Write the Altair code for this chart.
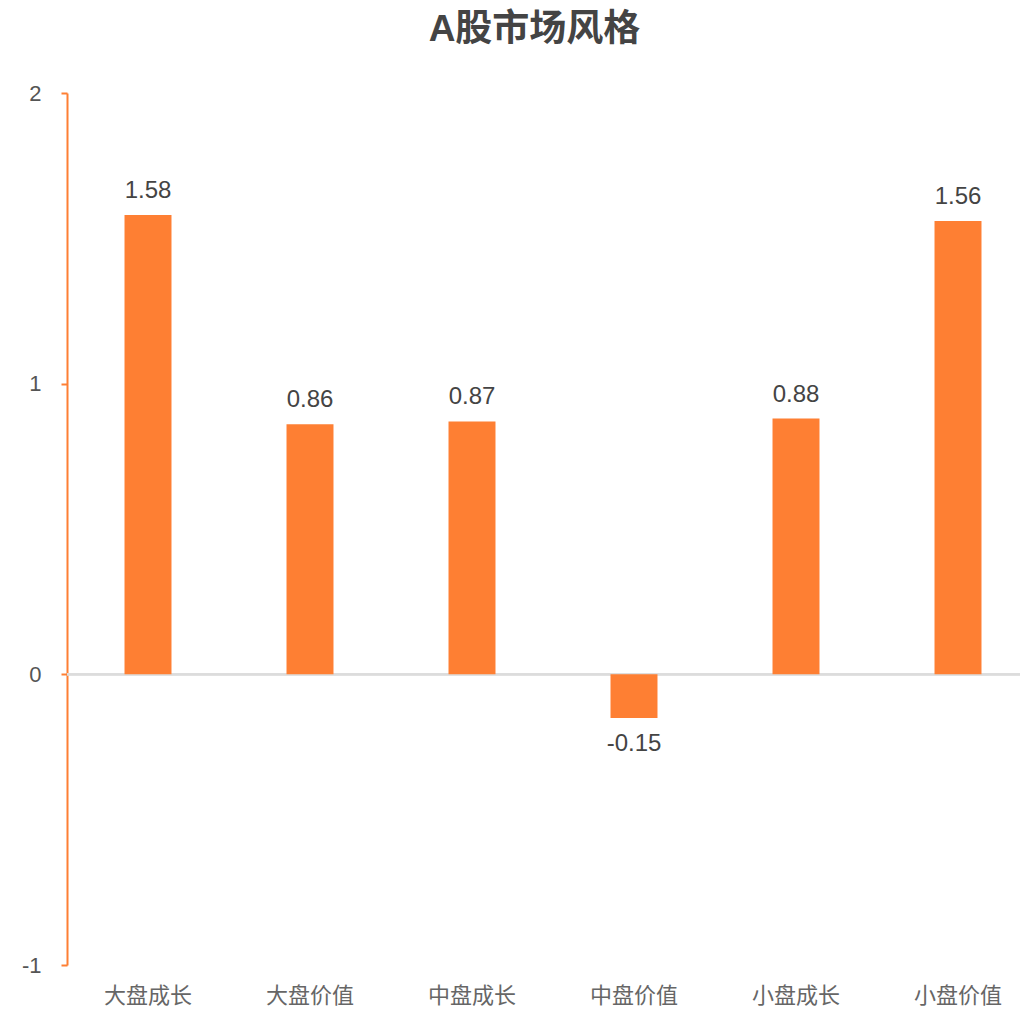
import altair as alt
import pandas as pd

categories = ["大盘成长", "大盘价值", "中盘成长", "中盘价值", "小盘成长", "小盘价值"]
values = [1.58, 0.86, 0.87, -0.15, 0.88, 1.56]

df = pd.DataFrame({"cat": categories, "val": values})

ORANGE = "#FE7F33"
FONT = "Liberation Sans, Noto Sans CJK SC, sans-serif"

x_enc = alt.X(
    "cat:N",
    sort=None,
    scale=alt.Scale(range=[0, 972], paddingInner=0.71, paddingOuter=0.355),
    axis=alt.Axis(
        title=None, domain=False, ticks=False, labelAngle=0,
        labelFontSize=22, labelColor="#666", labelFont=FONT, labelPadding=20,
    ),
)
y_enc = alt.Y(
    "val:Q",
    scale=alt.Scale(domain=[-1, 2], nice=False),
    axis=alt.Axis(
        title=None, values=[-1, 0, 1, 2], grid=False,
        labelExpr="replace(format(datum.value, 'd'), '\u2212', '-')",
        domainColor=ORANGE, domainWidth=2, tickColor=ORANGE, tickWidth=2, tickSize=6,
        labelFontSize=22, labelColor="#555", labelFont=FONT, labelPadding=20,
    ),
)

base = alt.Chart(df).transform_calculate(
    lbl="replace(format(datum.val, '.2f'), '\u2212', '-')"
)

bars = base.mark_bar(color=ORANGE).encode(x=x_enc, y=y_enc, y2=alt.datum(0))

zero = base.mark_rule(color="#dcdcdc", strokeWidth=2).encode(
    x=alt.value(0), x2=alt.value(953), y=alt.datum(0)
)

pos_text = base.transform_filter("datum.val >= 0").mark_text(
    baseline="bottom", dy=-12, fontSize=24, color="#444", font=FONT
).encode(x=x_enc, y=y_enc, text="lbl:N")

neg_text = base.transform_filter("datum.val < 0").mark_text(
    baseline="top", dy=14, fontSize=24, color="#444", font=FONT
).encode(x=x_enc, y=y_enc, text="lbl:N")

chart = alt.layer(zero, bars, pos_text, neg_text).properties(
    width=953,
    height=872,
    autosize=alt.AutoSizeParams(type="none"),
    padding={"left": 59, "top": 85, "right": 0, "bottom": 41},
    title=alt.TitleParams(
        "A股市场风格", fontSize=37, fontWeight="bold", color="#444", font=FONT,
        anchor="middle", frame="group", dx=-9, offset=33,
    ),
).configure_view(stroke=None)

chart.save("out.html", embed_options={"renderer": "svg", "actions": False})
